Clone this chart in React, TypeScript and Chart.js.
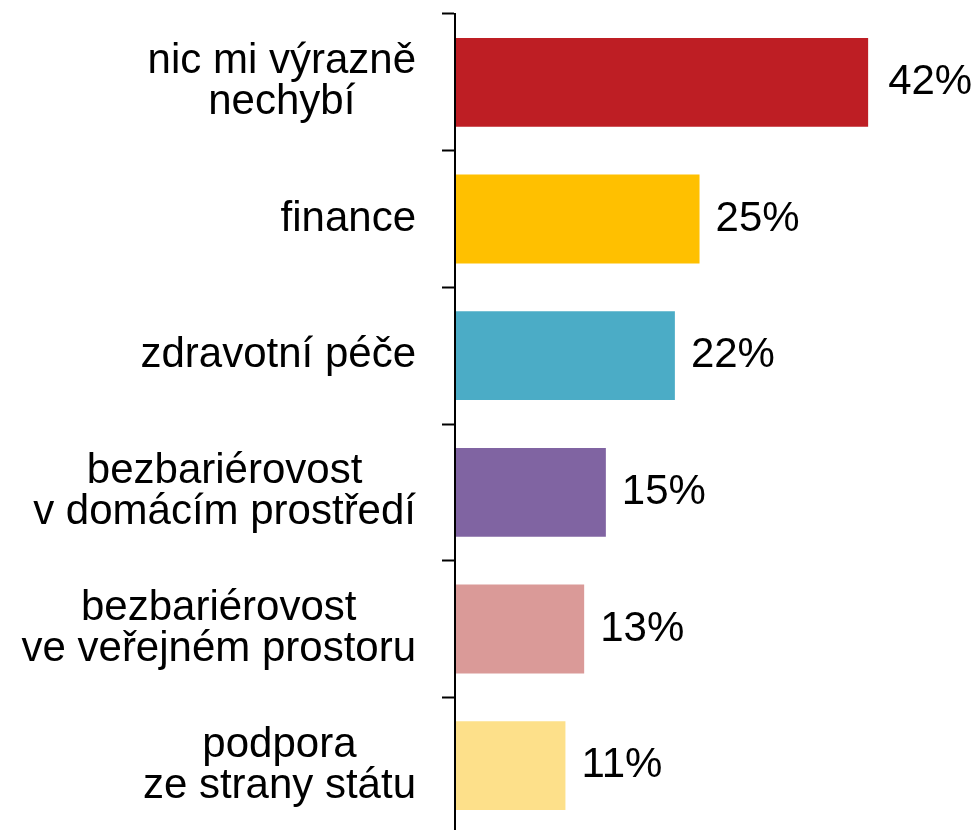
import React, { useEffect, useRef } from "react";
import { Chart, registerables } from "chart.js";

Chart.register(...registerables);

const categories: string[][] = [
  ["nic mi výrazně", "nechybí"],
  ["finance"],
  ["zdravotní péče"],
  ["bezbariérovost", "v domácím prostředí"],
  ["bezbariérovost", "ve veřejném prostoru"],
  ["podpora", "ze strany státu"],
];
const values: number[] = [41.9, 24.8, 22.3, 15.3, 13.1, 11.2];
const valueLabels: string[] = ["42%", "25%", "22%", "15%", "13%", "11%"];
const barColors: string[] = ["#BE1E24", "#FFC000", "#4BACC6", "#8064A2", "#DA9A98", "#FDE08A"];

const FONT = "42px 'Liberation Sans', Arial, sans-serif";

const labelPlugin = {
  id: "customLabels",
  afterDraw(chart: any) {
    const ctx = chart.ctx;
    const yScale = chart.scales.y;
    const meta = chart.getDatasetMeta(0);
    ctx.save();
    ctx.font = FONT;
    ctx.fillStyle = "#000";
    ctx.textBaseline = "middle";
    const lh = 41;
    const rightEdge = chart.chartArea.left - 39;
    categories.forEach((lines, i) => {
      const y = yScale.getPixelForValue(i);
      const w = Math.max(...lines.map((l) => ctx.measureText(l).width));
      const cx = rightEdge - w / 2;
      ctx.textAlign = "center";
      lines.forEach((line, j) => {
        ctx.fillText(line, cx, y - ((lines.length - 1) * lh) / 2 + j * lh);
      });
    });
    ctx.textAlign = "left";
    meta.data.forEach((bar: any, i: number) => {
      ctx.fillText(valueLabels[i], bar.x + (i === 0 ? 20 : 16), bar.y);
    });
    ctx.restore();
  },
};

export default function App() {
  const ref = useRef<HTMLCanvasElement>(null);
  useEffect(() => {
    if (!ref.current) return;
    const chart = new Chart(ref.current, {
      type: "bar",
      data: {
        labels: categories.map((c) => c.join(" ")),
        datasets: [
          {
            data: values,
            backgroundColor: barColors,
            borderWidth: 0,
            barPercentage: 0.65,
            categoryPercentage: 1,
          },
        ],
      },
      options: {
        indexAxis: "y",
        animation: false,
        responsive: false,
        maintainAspectRatio: false,
        layout: { padding: { left: 442, top: 14, right: 29, bottom: 0 } },
        plugins: { legend: { display: false }, tooltip: { enabled: false } },
        scales: {
          x: { display: false, min: 0, max: 50 },
          y: {
            grid: {
              z: 1,
              offset: true,
              drawOnChartArea: false,
              drawTicks: true,
              tickLength: 13,
              tickWidth: 2,
              tickColor: "#000",
            },
            border: { display: true, color: "#000", width: 2, z: 1 },
            ticks: { display: false },
          },
        },
      },
      plugins: [labelPlugin],
    });
    return () => chart.destroy();
  }, []);
  return (
    <div style={{ position: "fixed", left: 0, top: 0, width: 977, height: 834, background: "#fff" }}>
      <canvas ref={ref} width={977} height={834} style={{ display: "block", width: 977, height: 834 }} />
    </div>
  );
}
